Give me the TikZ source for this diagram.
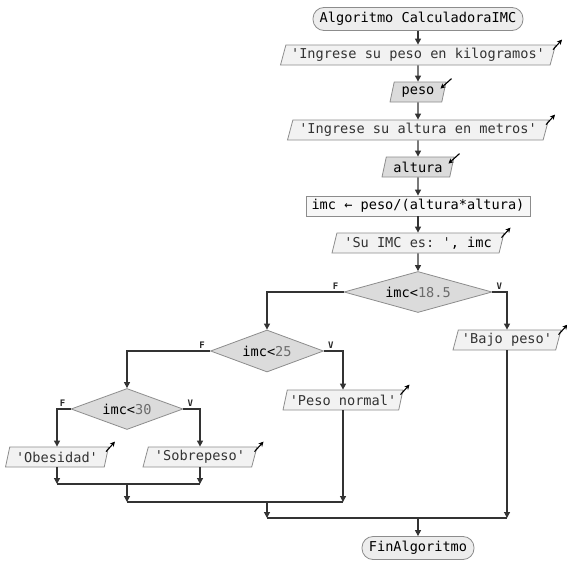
\documentclass[tikz,border=0pt]{standalone}
\usepackage{fontspec}
\setmonofont{DejaVu Sans Mono}
\usetikzlibrary{calc,shapes.geometric,arrows.meta}

\newcommand{\strlit}[1]{\textcolor{black!80}{#1}}
\newcommand{\numlit}[1]{\textcolor{black!58}{#1}}

\tikzset{
  base/.style={draw=black!45, line width=0.8pt, inner sep=0pt, text=black,
    font=\ttfamily\fontsize{13.6}{16}\selectfont},
  terminal/.style={base, rectangle, rounded corners=11pt, fill=black!7, minimum height=23pt},
  outbox/.style={base, trapezium, trapezium left angle=68, trapezium right angle=112,
    trapezium stretches body, fill=black!5, minimum height=20pt},
  inbox/.style={outbox, fill=black!14},
  assignbox/.style={base, rectangle, fill=black!3, minimum height=20pt},
  decision/.style={base, diamond, aspect=3.5, fill=black!14},
  flow/.style={draw=black!80, line width=1.2pt, -{Triangle[length=6pt,width=6pt]}},
  link/.style={draw=black!80, line width=1.2pt},
  branch/.style={font=\ttfamily\bfseries\fontsize{9}{10}\selectfont, text=black!85, inner sep=0pt},
  icon/.style={draw=black, line width=1.1pt, -{Stealth[length=5pt,width=5pt]}}
}

\begin{document}
\begin{tikzpicture}[x=1pt,y=-1pt]
  %%%%% START %%%%%
  \useasboundingbox (0,0) rectangle (567,581);

  % main column
  \node[terminal, minimum width=210pt] (inicio) at (418,19) {Algoritmo CalculadoraIMC};
  \node[outbox, minimum width=275pt] (msgpeso) at (418,55) {\strlit{'Ingrese su peso en kilogramos'}};
  \node[inbox, minimum width=56pt] (peso) at (418,92) {peso};
  \node[outbox, minimum width=261pt] (msgalt) at (418,130) {\strlit{'Ingrese su altura en metros'}};
  \node[inbox, minimum width=72pt] (altura) at (418,167) {altura};
  \node[assignbox, minimum width=224pt] (calc) at (418,206) {imc ← peso/(altura*altura)};
  \node[outbox, minimum width=172pt] (msgimc) at (418,243) {\strlit{'Su IMC es: '}, imc};

  % decisions
  \node[decision, minimum width=148pt, minimum height=41pt] (d1) at (418,292) {imc<\numlit{18.5}};
  \node[decision, minimum width=113pt, minimum height=42pt] (d2) at (267,351) {imc<\numlit{25}};
  \node[decision, minimum width=112pt, minimum height=41pt] (d3) at (127,409) {imc<\numlit{30}};

  % results
  \node[outbox, minimum width=108pt] (bajo) at (507,340) {\strlit{'Bajo peso'}};
  \node[outbox, minimum width=120pt] (normal) at (343,400) {\strlit{'Peso normal'}};
  \node[outbox, minimum width=103pt] (obes) at (57,457) {\strlit{'Obesidad'}};
  \node[outbox, minimum width=114pt] (sobre) at (200,457) {\strlit{'Sobrepeso'}};

  \node[terminal, minimum width=112pt] (fin) at (418,548) {FinAlgoritmo};

  % join points
  \coordinate (j1) at (d3 |- 0,484);
  \coordinate (j2) at (d2 |- 0,502);
  \coordinate (j3) at (d1 |- 0,518);

  % straight flow
  \draw[flow] (inicio) -- (msgpeso);
  \draw[flow] (msgpeso) -- (peso);
  \draw[flow] (peso) -- (msgalt);
  \draw[flow] (msgalt) -- (altura);
  \draw[flow] (altura) -- (calc);
  \draw[flow] (calc) -- (msgimc);
  \draw[flow] (msgimc) -- (d1);

  % branches
  \draw[flow] (d1.west) -| (d2.north);
  \draw[flow] (d1.east) -| (bajo.north);
  \draw[flow] (d2.west) -| (d3.north);
  \draw[flow] (d2.east) -| (normal.north);
  \draw[flow] (d3.west) -| (obes.north);
  \draw[flow] (d3.east) -| (sobre.north);

  \node[branch, anchor=south] at ($(d1.west)+(-8,-2)$) {F};
  \node[branch, anchor=south] at ($(d1.east)+(7,-2)$) {V};
  \node[branch, anchor=south] at ($(d2.west)+(-8,-2)$) {F};
  \node[branch, anchor=south] at ($(d2.east)+(7,-2)$) {V};
  \node[branch, anchor=south] at ($(d3.west)+(-8,-2)$) {F};
  \node[branch, anchor=south] at ($(d3.east)+(7,-2)$) {V};

  % joins
  \draw[flow] (obes.south) -- (obes.south |- j1);
  \draw[flow] (sobre.south) -- (sobre.south |- j1);
  \draw[link] (obes.south |- j1) -- (sobre.south |- j1);
  \draw[flow] (j1) -- (j1 |- j2);
  \draw[flow] (normal.south) -- (normal.south |- j2);
  \draw[link] (j1 |- j2) -- (normal.south |- j2);
  \draw[flow] (j2) -- (j2 |- j3);
  \draw[flow] (bajo.south) -- (bajo.south |- j3);
  \draw[link] (j2 |- j3) -- (bajo.south |- j3);
  \draw[flow] (j3) -- (fin.north);

  % output / input marks
  \foreach \n in {msgpeso,msgalt,msgimc,bajo,normal,obes,sobre}
    \draw[icon] ($(\n.top right corner)+(-3,5)$) -- ++(9,-10);
  \foreach \n in {peso,altura}
    \draw[icon] ($(\n.top right corner)+(5,-3)$) -- ++(-11,10);

  %%%%% END %%%%%
\end{tikzpicture}
\end{document}
